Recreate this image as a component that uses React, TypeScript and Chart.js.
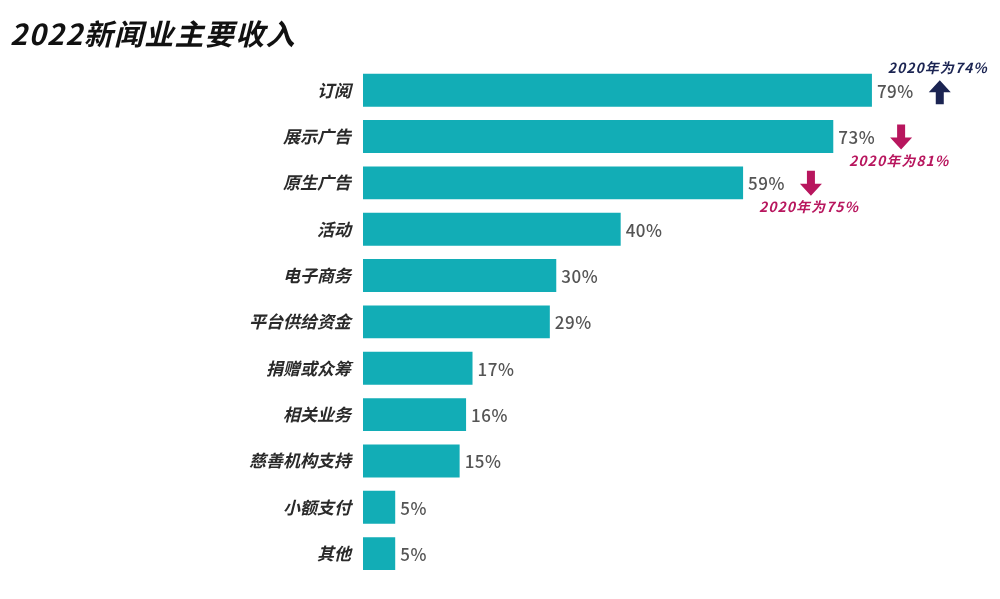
import React, { useEffect, useRef } from 'react';
import { Chart, registerables } from 'chart.js';

Chart.register(...registerables);

const categories = ['订阅', '展示广告', '原生广告', '活动', '电子商务', '平台供给资金', '捐赠或众筹', '相关业务', '慈善机构支持', '小额支付', '其他'];
const share2022 = [79, 73, 59, 40, 30, 29, 17, 16, 15, 5, 5];
const share2020: (number | null)[] = [74, 81, 75, null, null, null, null, null, null, null, null];

const TEAL = '#12adb6';
const NAVY = '#1b2452';
const MAGENTA = '#b8165e';
const FONT = '"Noto Sans CJK SC", "Noto Sans", sans-serif';

// value labels + 2020 comparison arrows
const labelPlugin = {
  id: 'valueLabels',
  afterDatasetsDraw(chart: any) {
    const ctx = chart.ctx;
    const meta = chart.getDatasetMeta(0);
    ctx.save();
    meta.data.forEach((bar: any, i: number) => {
      const txt = share2022[i] + '%';
      ctx.font = `500 17px ${FONT}`;
      ctx.fillStyle = '#555';
      ctx.textAlign = 'left';
      ctx.textBaseline = 'middle';
      (ctx as any).letterSpacing = '0.5px';
      const x0 = bar.x + 5;
      ctx.fillText(txt, x0, bar.y + 1);
      const prev = share2020[i];
      if (prev == null) return;
      const w = ctx.measureText(txt).width;
      const ax = x0 + w + 26;
      const up = share2022[i] > prev;
      const color = up ? NAVY : MAGENTA;
      ctx.fillStyle = color;
      ctx.beginPath();
      if (up) {
        const top = bar.y - 10;
        ctx.moveTo(ax, top);
        ctx.lineTo(ax + 11, top + 12);
        ctx.lineTo(ax + 4, top + 12);
        ctx.lineTo(ax + 4, top + 24);
        ctx.lineTo(ax - 4, top + 24);
        ctx.lineTo(ax - 4, top + 12);
        ctx.lineTo(ax - 11, top + 12);
      } else {
        const bot = bar.y + 13;
        ctx.moveTo(ax, bot);
        ctx.lineTo(ax + 11, bot - 12);
        ctx.lineTo(ax + 4, bot - 12);
        ctx.lineTo(ax + 4, bot - 25);
        ctx.lineTo(ax - 4, bot - 25);
        ctx.lineTo(ax - 4, bot - 12);
        ctx.lineTo(ax - 11, bot - 12);
      }
      ctx.closePath();
      ctx.fill();
      ctx.font = `italic 600 14px ${FONT}`;
      (ctx as any).letterSpacing = '1px';
      ctx.textAlign = 'center';
      const note = `2020年为${prev}%`;
      ctx.fillText(note, ax - 2, up ? bar.y - 22 : bar.y + 24);
    });
    ctx.restore();
  },
};

const App: React.FC = () => {
  const chartRef = useRef<HTMLCanvasElement>(null);
  const chartInstance = useRef<Chart | null>(null);

  useEffect(() => {
    document.body.style.margin = '0';
    if (!chartRef.current) return;
    if (chartInstance.current) chartInstance.current.destroy();
    const ctx = chartRef.current.getContext('2d');
    if (!ctx) return;

    chartInstance.current = new Chart(ctx, {
      type: 'bar',
      data: {
        labels: categories,
        datasets: [
          {
            data: share2022,
            backgroundColor: TEAL,
            borderWidth: 0,
            categoryPercentage: 1,
            barPercentage: 0.71,
          },
        ],
      },
      options: {
        indexAxis: 'y',
        responsive: false,
        animation: false,
        layout: { padding: { top: 67, bottom: 19, left: 0, right: 25 } },
        plugins: { legend: { display: false }, tooltip: { enabled: false }, title: { display: false } },
        scales: {
          x: { display: false, min: 0, max: 95 },
          y: {
            grid: { display: false, drawTicks: false },
            border: { display: false },
            ticks: {
              padding: 12,
              color: '#2a2a2a',
              font: { family: FONT, size: 17, weight: 'bold', style: 'italic' },
            },
            afterFit: (s: any) => {
              s.width = 363;
            },
          },
        },
      },
      plugins: [labelPlugin],
    });

    return () => {
      if (chartInstance.current) {
        chartInstance.current.destroy();
        chartInstance.current = null;
      }
    };
  }, []);

  return (
    <div style={{ position: 'relative', width: 1000, height: 599, background: '#fff', overflow: 'hidden' }}>
      <canvas ref={chartRef} width={1000} height={599} style={{ position: 'absolute', left: 0, top: 0 }} />
      <div
        style={{
          position: 'absolute',
          left: 10,
          top: 12,
          fontFamily: FONT,
          fontSize: 29,
          fontWeight: 600,
          fontStyle: 'italic',
          letterSpacing: 1.3,
          color: '#111',
          lineHeight: '40px',
        }}
      >
        2022新闻业主要收入
      </div>
    </div>
  );
};

export default App;
